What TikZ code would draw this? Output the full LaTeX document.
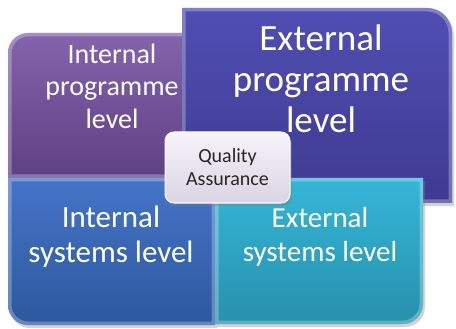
\documentclass[tikz,border=0pt]{standalone}
\usepackage{fontspec}
\setmainfont{Carlito}
\usetikzlibrary{shadows}
\definecolor{purT}{RGB}{132,100,172}
\definecolor{purB}{RGB}{94,64,132}
\definecolor{epT}{RGB}{80,78,178}
\definecolor{epB}{RGB}{62,58,146}
\definecolor{isT}{RGB}{70,116,200}
\definecolor{isB}{RGB}{44,88,158}
\definecolor{esT}{RGB}{54,182,216}
\definecolor{esB}{RGB}{38,144,172}
\definecolor{qaT}{RGB}{246,244,250}
\definecolor{qaB}{RGB}{218,212,228}
\tikzset{
  rim/.style={draw=white, draw opacity=0.28, line width=7pt},
  shad/.style={drop shadow={shadow xshift=2pt, shadow yshift=-3pt, opacity=0.35}},
  lbl/.style={text=white, align=center, inner sep=0pt},
}
\def\purpath{(8,178) -- (8,53) .. controls (8,42) and (17,33) .. (28,33) -- (200,33) -- (200,178) -- cycle}
\def\eppath{(182,8) -- (427,8) .. controls (441,8) and (452,19) .. (452,33) -- (452,203) -- (182,203) -- cycle}
\def\ispath{(8,178) -- (215,178) -- (215,325) -- (28,325) .. controls (17,325) and (8,316) .. (8,305) -- cycle}
\def\espath{(215,178) -- (423,178) -- (423,304) .. controls (423,315) and (414,324) .. (403,324) -- (215,324) -- cycle}
\begin{document}
\begin{tikzpicture}[x=1pt,y=-1pt]
\useasboundingbox (0,0) rectangle (456,329);
% internal programme
\path[shad, top color=purT, bottom color=purB] \purpath;
\begin{scope}\clip \purpath; \path[rim] \purpath; \end{scope}
% external programme
\path[shad, top color=epT, bottom color=epB] \eppath;
\begin{scope}\clip \eppath; \path[rim] \eppath; \end{scope}
% internal systems
\path[shad, top color=isT, bottom color=isB] \ispath;
\begin{scope}\clip \ispath; \path[rim] \ispath; \end{scope}
% external systems
\path[shad, top color=esT, bottom color=esB] \espath;
\begin{scope}\clip \espath; \path[rim] \espath; \end{scope}
% texts
\node[lbl, font=\fontsize{28}{32.5}\selectfont] (ip) at (112,86) {Internal\\programme\\level};
\node[lbl, font=\fontsize{37}{41}\selectfont] (ep) at (321,79) {External\\programme\\level};
\node[lbl, font=\fontsize{31}{35}\selectfont] (is) at (111,237) {Internal\\systems level};
\node[lbl, font=\fontsize{29}{34}\selectfont] (es) at (320,237) {External\\systems level};
% quality assurance
\path[shad, rounded corners=9pt, top color=qaT, bottom color=qaB, draw=white, line width=1pt] (165,132) rectangle (290,203);
\node[inner sep=0pt, align=center, text=black!85, font=\fontsize{20}{23}\selectfont] (qa) at (227.5,167) {Quality\\Assurance};
\end{tikzpicture}
\end{document}
